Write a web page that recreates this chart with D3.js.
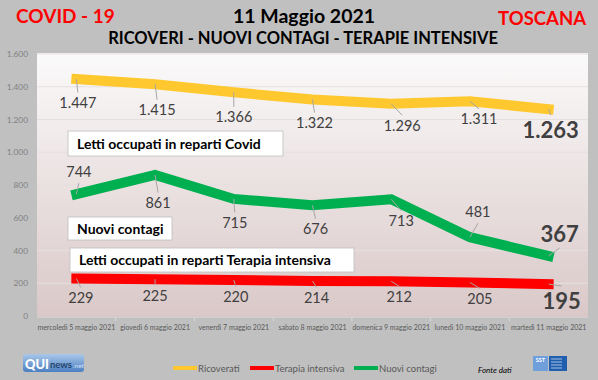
<!DOCTYPE html>
<html><head><meta charset="utf-8">
<script src="https://cdn.jsdelivr.net/npm/d3@7"></script>
<style>html,body{margin:0;padding:0;background:#c0c0c0;}svg{display:block;}</style>
</head><body>
<script>
const categories = ["mercoledì 5 maggio 2021","giovedì 6 maggio 2021","venerdì 7 maggio 2021","sabato 8 maggio 2021","domenica 9 maggio 2021","lunedì 10 maggio 2021","martedì 11 maggio 2021"];
const ricoverati = [1447,1415,1366,1322,1296,1311,1263];
const nuoviContagi = [744,861,715,676,713,481,367];
const terapiaIntensiva = [229,225,220,214,212,205,195];
const yTicks = [0,200,400,600,800,1000,1200,1400,1600];
const seriesNames = ["Ricoverati","Terapia intensiva","Nuovi contagi"];
// label offsets (dx, dy of baseline from point)
const offRic = [[1.5,29],[2,31],[0,30],[2,28.5],[11,27],[9,23],[2,29]];
const offNc = [[2.5,-17],[3,33],[1,29],[3,29],[10,27],[8,-20],[11,-14]];
const offTi = [[4.5,24.5],[0,21.5],[2,22],[4,22],[8,20.5],[10,21.5],[13,25]];

const W=598,H=380;
const svg=d3.select("body").append("svg").attr("width",W).attr("height",H);
const FONT="Lato, 'Open Sans', sans-serif";
svg.append("rect").attr("width",W).attr("height",H).attr("fill","#c0c0c0");

const defs=svg.append("defs");
const g=defs.append("linearGradient").attr("id","bg").attr("x1",0).attr("y1",0).attr("x2",0).attr("y2",1);
g.append("stop").attr("offset","0%").attr("stop-color","#fbfafa");
g.append("stop").attr("offset","100%").attr("stop-color","#dac8c8");

const L=37,R=588,T=53,B=316;
svg.append("rect").attr("x",L).attr("y",T).attr("width",R-L).attr("height",B-T+1).attr("fill","url(#bg)");

const x=d3.scaleBand().domain(categories).range([L,R]);
const y=d3.scaleLinear().domain([0,1600]).range([B,T+1]);
const cx=c=>x(c)+x.bandwidth()/2;

// gridlines
svg.append("g").selectAll("line").data(yTicks.filter(v=>v>0)).join("line")
  .attr("x1",L).attr("x2",R).attr("y1",d=>y(d)).attr("y2",d=>y(d))
  .attr("stroke","#e6dfdf").attr("stroke-width",1);

// y axis labels
const fmt=v=>d3.format(",")(v).replace(/,/g,".");
svg.append("g").selectAll("text").data(yTicks).join("text")
  .attr("x",28).attr("y",d=>y(d)+3).attr("text-anchor","end")
  .attr("font-family",FONT).attr("font-size",8.3).attr("fill","#808080").text(fmt);

// x axis
const xa=svg.append("g").attr("transform",`translate(0,${B+1})`)
  .call(d3.axisBottom(x).tickSize(0).tickPadding(8));
xa.select(".domain").attr("stroke","#d0d0d0");
xa.selectAll("text").attr("font-family",FONT).attr("font-size",7).attr("fill","#595959");
svg.append("g").selectAll("line").data(categories.slice(1)).join("line")
  .attr("x1",d=>x(d)).attr("x2",d=>x(d)).attr("y1",B+1).attr("y2",B+5)
  .attr("stroke","#d9d9d9");

const line=d3.line().x((d,i)=>cx(categories[i])).y(d=>y(d));
function drawSeries(vals,color){
  svg.append("path").datum(vals).attr("d",line).attr("fill","none")
    .attr("stroke",color).attr("stroke-width",10).attr("stroke-linecap","square").attr("stroke-linejoin","miter");
}
drawSeries(ricoverati,"#ffc82e");
drawSeries(nuoviContagi,"#00b050");
drawSeries(terapiaIntensiva,"#ff0000");

function drawLabels(vals,offs){
  vals.forEach((v,i)=>{
    const px=cx(categories[i]),py=y(v);
    const last=i===vals.length-1;
    const fs=last?22:14.5;
    const lx=px+offs[i][0],ly=py+offs[i][1];
    let ey= offs[i][1]>0 ? ly-fs-1 : ly+6;
    svg.append("line").attr("x1",px).attr("y1",py).attr("x2",lx).attr("y2",ey)
      .attr("stroke","#a6a6a6").attr("stroke-width",1);
    svg.append("text").attr("x",lx).attr("y",ly).attr("text-anchor","middle")
      .attr("font-family",FONT).attr("font-size",fs).attr("font-weight",last?"bold":"normal")
      .attr("fill","#404040").text(fmt(v));
  });
}
drawLabels(ricoverati,offRic);
drawLabels(nuoviContagi,offNc);
drawLabels(terapiaIntensiva,offTi);

// series boxes
function box(x0,y0,w,h,txt){
  svg.append("rect").attr("x",x0).attr("y",y0).attr("width",w).attr("height",h)
    .attr("fill","#ffffff").attr("stroke","#bfbfbf").attr("stroke-width",0.8);
  svg.append("text").attr("x",x0+9).attr("y",y0+h/2+5).attr("font-family",FONT)
    .attr("font-size",14).attr("font-weight","bold").attr("fill","#000").text(txt);
}
box(68,131,215,25,"Letti occupati in reparti Covid");
box(68,217,104,23,"Nuovi contagi");
box(70,248,284,24,"Letti occupati in reparti Terapia intensiva");

// titles
svg.append("text").attr("x",16).attr("y",23).attr("font-family",FONT).attr("font-size",19)
  .attr("font-weight","bold").attr("fill","#ff0000").text("COVID - 19");
svg.append("text").attr("x",304).attr("y",23).attr("text-anchor","middle").attr("font-family",FONT).attr("font-size",19.5)
  .attr("font-weight","bold").attr("fill","#000").text("11 Maggio 2021");
svg.append("text").attr("x",303).attr("y",44).attr("text-anchor","middle").attr("font-family",FONT).attr("font-size",16.5)
  .attr("font-weight","bold").attr("fill","#000").text("RICOVERI - NUOVI CONTAGI - TERAPIE INTENSIVE");
svg.append("text").attr("x",586).attr("y",25).attr("text-anchor","end").attr("font-family",FONT).attr("font-size",18.5)
  .attr("font-weight","bold").attr("fill","#ff0000").text("TOSCANA");

// legend
const legColors=["#ffc82e","#ff0000","#00b050"];
const legX=[173,250,354];
seriesNames.forEach((n,i)=>{
  svg.append("rect").attr("x",legX[i]).attr("y",366).attr("width",24).attr("height",4).attr("fill",legColors[i]);
  svg.append("text").attr("x",legX[i]+25).attr("y",371.5).attr("font-family",FONT).attr("font-size",9.5)
    .attr("fill","#595959").text(n);
});
svg.append("text").attr("x",478).attr("y",373).attr("font-family",FONT).attr("font-size",8)
  .attr("font-style","italic").attr("fill","#000").text("Fonte dati");

// QUInews logo
const lg=defs.append("linearGradient").attr("id","lg").attr("x1",0).attr("y1",0).attr("x2",0).attr("y2",1);
lg.append("stop").attr("offset","0%").attr("stop-color","#a9c8ea");
lg.append("stop").attr("offset","100%").attr("stop-color","#4b7fc0");
svg.append("rect").attr("x",23).attr("y",354).attr("width",61).attr("height",18).attr("rx",3).attr("fill","url(#lg)");
svg.append("text").attr("x",25).attr("y",369).attr("font-family",FONT).attr("font-size",14).attr("font-weight","900")
  .attr("fill","#ffffff").attr("textLength",24).attr("lengthAdjust","spacingAndGlyphs").text("QUI");
svg.append("text").attr("x",50).attr("y",368).attr("font-family",FONT).attr("font-size",9).attr("font-weight","bold")
  .attr("fill","#26466e").attr("textLength",22).attr("lengthAdjust","spacingAndGlyphs").text("news");
svg.append("text").attr("x",73).attr("y",368).attr("font-family",FONT).attr("font-size",6.5)
  .attr("fill","#d0e0f5").text(".net");
// SST logo
svg.append("rect").attr("x",533).attr("y",356).attr("width",15).attr("height",15).attr("fill","#6fa0dc");
svg.append("text").attr("x",540.5).attr("y",362).attr("text-anchor","middle").attr("font-family",FONT).attr("font-size",5.5)
  .attr("font-weight","bold").attr("fill","#fff").text("SST");
svg.append("rect").attr("x",549).attr("y",356).attr("width",18).attr("height",15).attr("fill","#1f5fae");
[359,362,365,368].forEach(yy=>svg.append("line").attr("x1",551).attr("x2",562).attr("y1",yy).attr("y2",yy)
  .attr("stroke","#c8d8ee").attr("stroke-width",0.8));
</script>
</body></html>
